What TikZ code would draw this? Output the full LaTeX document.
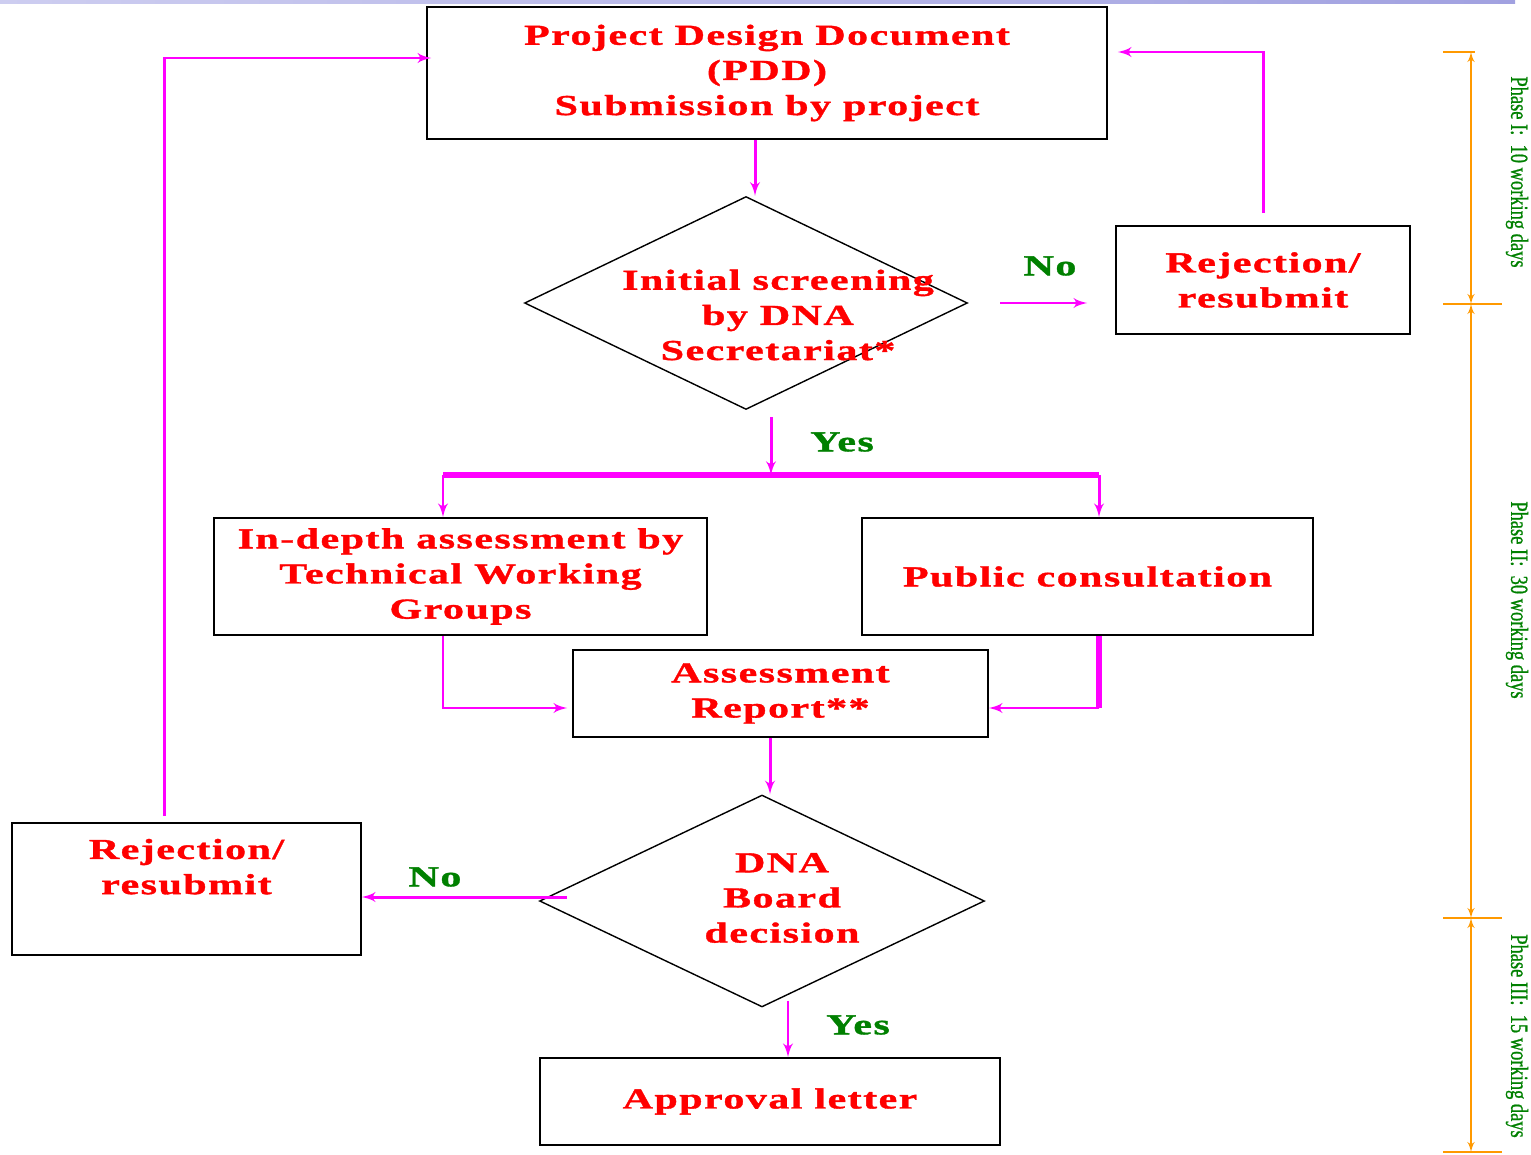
\documentclass[tikz,border=0pt]{standalone}
\usepackage{fontspec}
\setmainfont{Liberation Serif}
\newfontfamily\boxfont[FakeStretch=1.45,LetterSpace=5,FakeBold=1.2]{Liberation Serif}
\newfontfamily\phasefont[FakeStretch=0.75,FakeBold=0.8]{Liberation Serif}
\usetikzlibrary{shapes.geometric,arrows,positioning}

\definecolor{flowred}{RGB}{255,0,0}
\definecolor{flowpink}{RGB}{255,0,255}
\definecolor{answergreen}{RGB}{0,128,0}
\definecolor{phaseorange}{RGB}{255,153,0}
\definecolor{barlight}{RGB}{205,205,240}
\definecolor{bardark}{RGB}{95,95,200}

\tikzstyle{redtext} = [align=center, text=flowred, inner sep=0pt,
    font=\boxfont\bfseries\fontsize{16.5}{20}\selectfont]
\tikzstyle{block} = [rectangle, draw, line width=1pt, redtext]
\tikzstyle{decision} = [diamond, draw, line width=0.8pt, inner sep=0pt]
\tikzstyle{line} = [draw, flowpink, line width=1.7pt, -latex']
\tikzstyle{bus} = [draw, flowpink, line width=3pt]
\tikzstyle{answer} = [text=answergreen, inner sep=0pt,
    font=\boxfont\bfseries\fontsize{16.5}{18}\selectfont]
\tikzstyle{phase} = [text=answergreen, rotate=-90, inner sep=0pt,
    font=\phasefont\fontsize{14}{16}\selectfont]
\tikzstyle{dim} = [draw, phaseorange, line width=1pt]

\begin{document}
\begin{tikzpicture}[x=0.02cm, y=-0.02cm]
    \useasboundingbox (0,0) rectangle (1531,1155);
    \shade[left color=barlight, middle color=bardark, right color=barlight!60!bardark]
        (0,0) rectangle (1515,4);

    % boxes
    \node [block, minimum width=13.6cm, minimum height=2.64cm] (pdd) at (767,73)
        {Project Design Document\\(PDD)\\Submission by project};
    \node [decision, minimum width=8.86cm, minimum height=4.26cm] (screen) at (746,303) {};
    \node [redtext] (screentext) at (778,315) {Initial screening\\by DNA\\Secretariat*};
    \node [block, minimum width=5.88cm, minimum height=2.16cm] (rejtop) at (1263,280)
        {Rejection/\\resubmit};
    \node [block, minimum width=9.86cm, minimum height=2.34cm] (twg) at (460.5,576.5)
        {In-depth assessment by\\Technical Working\\Groups};
    \node [block, minimum width=9.02cm, minimum height=2.34cm] (pub) at (1087.5,576.5)
        {Public consultation};
    \node [block, minimum width=8.3cm, minimum height=1.74cm] (rep) at (780.5,693.5)
        {Assessment\\Report**};
    \node [decision, minimum width=8.9cm, minimum height=4.24cm] (board) at (762,901) {};
    \node [redtext] (boardtext) at (782,898) {DNA\\Board\\decision};
    \node [block, minimum width=6.98cm, minimum height=2.64cm, text depth=0.9cm] (rejleft) at (186.5,889)
        {Rejection/\\resubmit};
    \node [block, minimum width=9.2cm, minimum height=1.74cm] (appr) at (770,1101.5)
        {Approval letter};

    % answers
    \node [answer] (no1) at (1050,266) {No};
    \node [answer] (yes1) at (842,442) {Yes};
    \node [answer] (no2) at (435,877) {No};
    \node [answer] (yes2) at (858,1025) {Yes};

    % connectors
    \coordinate (split) at (771,475);
    \coordinate (bl) at (443,475);
    \coordinate (br) at (1099,475);
    \path [line] (pdd.south -| 755,0) -- (755,0 |- screen.north);
    \path [line] ([xshift=0.64cm]screen.east) -- ([xshift=-0.56cm]rejtop.west |- screen.east);
    \path [line] ([yshift=0.24cm]rejtop.north) |- ([xshift=0.2cm,yshift=0.42cm]pdd.east);
    \path [line] ([yshift=-0.14cm]split |- screen.south) -- (split);
    \path [bus] (bl) -- (br);
    \path [line] (bl) -- (bl |- twg.north);
    \path [line] (br) -- (br |- pub.north);
    \path [line] (bl |- twg.south) |- ([xshift=-0.1cm,yshift=-0.29cm]rep.west);
    \path [bus] (br |- pub.south) -- ([yshift=-0.29cm]br |- rep.east);
    \path [line] ([yshift=-0.29cm]br |- rep.east) -- ([yshift=-0.29cm]rep.east);
    \path [line] (770,0 |- rep.south) -- (770,0 |- board.north);
    \path [line] ([xshift=0.56cm,yshift=0.08cm]board.west) -- ([yshift=0.08cm]board.west -| rejleft.east);
    \path [line] ([xshift=-0.45cm,yshift=0.12cm]rejleft.north) |- ([xshift=0.1cm,yshift=0.3cm]pdd.west);
    \path [line] ([xshift=0.52cm,yshift=0.14cm]board.south) -- ([xshift=0.52cm]board.south |- appr.north);

    % phases
    \coordinate (t1) at (1471,52);
    \coordinate (t2) at (1471,304);
    \coordinate (t3) at (1471,918);
    \coordinate (t4) at (1471,1152);
    \path [dim] ([xshift=-0.56cm]t1) -- ([xshift=0.08cm]t1);
    \foreach \t in {t2,t3,t4}
        \path [dim] ([xshift=-0.56cm]\t) -- ([xshift=0.62cm]\t);
    \path [dim, latex'-latex'] (t1) -- (t2);
    \path [dim, latex'-latex'] (t2) -- (t3);
    \path [dim, latex'-latex'] (t3) -- (t4);
    \node [phase] (ph1) at (1517,172) {Phase I:\ \ 10 working days};
    \node [phase] (ph2) at (1517,600) {Phase II:\ \ 30 working days};
    \node [phase] (ph3) at (1517,1036) {Phase III:\ \ 15 working days};
\end{tikzpicture}
\end{document}
